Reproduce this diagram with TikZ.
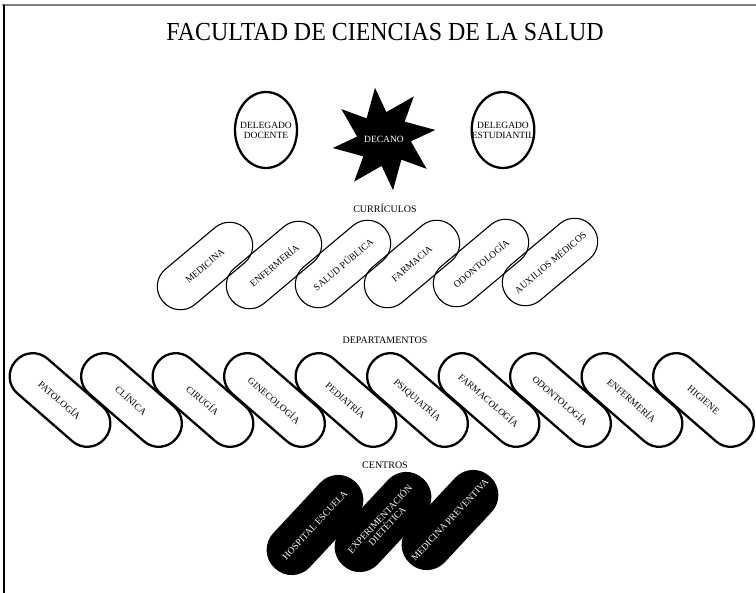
\documentclass[tikz,border=0pt]{standalone}
\usepackage{fontspec}
\setmainfont{Liberation Serif}
\newfontfamily\titlefont[FakeStretch=0.92]{Liberation Serif}
\usetikzlibrary{shapes.geometric}
\begin{document}
\begin{tikzpicture}[x=1pt, y=-1pt, font=\fontsize{9.5}{10}\selectfont, line join=round, line cap=round]
	\tikzset{
		curric/.style={draw, rectangle, rounded corners=22.5pt, line width=1.1pt, minimum width=110pt, minimum height=46pt, inner sep=0pt, rotate=40},
		depto/.style={draw, rectangle, rounded corners=22.5pt, line width=2.3pt, minimum width=118pt, minimum height=46pt, inner sep=0pt, rotate=-41},
		centro/.style={fill=black, text=white, rectangle, rounded corners=24.5pt, minimum width=118pt, minimum height=50pt, inner sep=0pt, rotate=47, align=center, font=\fontsize{9.5}{10}\selectfont},
		deleg/.style={draw, ellipse, line width=2.3pt, minimum width=62pt, minimum height=76pt, inner xsep=-9pt, inner ysep=0pt, align=center, font=\fontsize{9.5}{10}\selectfont},
		rotulo/.style={font=\fontsize{10}{11}\selectfont}
	}
	\useasboundingbox (0,0) rectangle (756,593);
	% marco
	\draw[line width=2pt, gray] (3,5)--(756,5);
	\draw[line width=1.2pt] (4,5)--(4,593);
	
	\node[font=\titlefont\fontsize{26}{28}\selectfont] (titulo) at (385,32) {FACULTAD DE CIENCIAS DE LA SALUD};
	
	% decano y delegados
	\coordinate (dc) at (384,139);
	\fill[shift={(dc)}] (80:52) \foreach \a in {80,35,...,-235} { -- (\a:52) -- (\a-30:27) } -- cycle;
	\node[text=white] (decano) at (dc) {DECANO};
	\node[deleg] (docente) at (266,130) {DELEGADO\\DOCENTE};
	\node[deleg] (estud) at (503,130) {DELEGADO\\ESTUDIANTIL};
	
	\node[rotulo] (curriculos) at (385,208) {CURRÍCULOS};
	\node[curric] (medicina) at (205,266) {MEDICINA};
	\node[curric] (enfermeria) at (274,265) {ENFERMERÍA};
	\node[curric] (salud) at (343,264) {SALUD PÚBLICA};
	\node[curric] (farmacia) at (412,264) {FARMACIA};
	\node[curric] (odonto) at (481,263) {ODONTOLOGÍA};
	\node[curric] (auxilios) at (550,262) {AUXILIOS MÉDICOS};
	
	\node[rotulo] (deptos) at (385,340) {DEPARTAMENTOS};
	\foreach \nombre [count=\i from 0] in {PATOLOGÍA,CLÍNICA,CIRUGÍA,GINECOLOGÍA,PEDIATRÍA,PSIQUIATRÍA,FARMACOLOGÍA,ODONTOLOGÍA,ENFERMERÍA,HIGIENE}
	\node[depto] (depto\i) at (60+71.5*\i,400) {\nombre};
	
	\node[rotulo] (centros) at (385,465) {CENTROS};
	\node[centro] (hospital) at (315,525) {HOSPITAL ESCUELA};
	\node[centro] (experim) at (383,522) {EXPERIMENTACIÓN\\DIETÉTICA};
	\node[centro] (preventiva) at (450,520) {MEDICINA PREVENTIVA};
\end{tikzpicture}
\end{document}
